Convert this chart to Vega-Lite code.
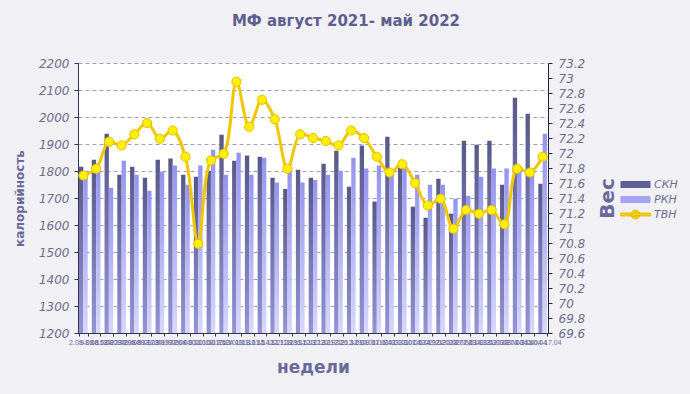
{
  "$schema": "https://vega.github.io/schema/vega-lite/v6.json",
  "width": 470,
  "height": 270,
  "autosize": {"type": "none"},
  "padding": {"left": 78, "top": 63, "right": 142, "bottom": 61},
  "background": "#F1F0F5",
  "config": {"view": {"fill": "white", "stroke": null}, "font": "DejaVu Sans"},
  "title": {"text": "МФ август 2021- май 2022", "fontSize": 15, "fontWeight": "bold", "color": "#5F5F8F", "offset": 28, "anchor": "middle", "dx": 33},
  "data": {"values": [
    {"week": "2.08-8.08", "СКН": 1816, "РКН": 1790, "ТВН": 71.70},
    {"week": "9.08-15.08", "СКН": 1842, "РКН": 1798, "ТВН": 71.79},
    {"week": "16.08-22.08", "СКН": 1938, "РКН": 1738, "ТВН": 72.15},
    {"week": "23.08-29.08", "СКН": 1786, "РКН": 1838, "ТВН": 72.10},
    {"week": "30.08-5.09", "СКН": 1816, "РКН": 1786, "ТВН": 72.25},
    {"week": "6.09-12.09", "СКН": 1775, "РКН": 1727, "ТВН": 72.40},
    {"week": "13.09-19.09", "СКН": 1842, "РКН": 1798, "ТВН": 72.19},
    {"week": "20.09-26.09", "СКН": 1846, "РКН": 1820, "ТВН": 72.30},
    {"week": "27.09-3.10", "СКН": 1786, "РКН": 1749, "ТВН": 71.95},
    {"week": "4.10-10.10", "СКН": 1779, "РКН": 1820, "ТВН": 70.79},
    {"week": "11.10-17.10", "СКН": 1801, "РКН": 1879, "ТВН": 71.90},
    {"week": "18.10-24.10", "СКН": 1934, "РКН": 1786, "ТВН": 71.99},
    {"week": "25.10-31.10", "СКН": 1838, "РКН": 1868, "ТВН": 72.95},
    {"week": "1.11-7.11", "СКН": 1857, "РКН": 1786, "ТВН": 72.35},
    {"week": "8.11-14.11", "СКН": 1853, "РКН": 1849, "ТВН": 72.71},
    {"week": "15.11-21.11", "СКН": 1775, "РКН": 1757, "ТВН": 72.45},
    {"week": "22.11-28.11", "СКН": 1733, "РКН": 1800, "ТВН": 71.79},
    {"week": "29.11-5.12", "СКН": 1805, "РКН": 1757, "ТВН": 72.25},
    {"week": "6.12-12.12", "СКН": 1775, "РКН": 1767, "ТВН": 72.20},
    {"week": "13.12-19.12", "СКН": 1827, "РКН": 1786, "ТВН": 72.16},
    {"week": "20.12-26.12", "СКН": 1875, "РКН": 1801, "ТВН": 72.10},
    {"week": "27.12-2.01", "СКН": 1742, "РКН": 1849, "ТВН": 72.30},
    {"week": "3.01-9.01", "СКН": 1894, "РКН": 1809, "ТВН": 72.20},
    {"week": "10.01-16.01", "СКН": 1687, "РКН": 1820, "ТВН": 71.95},
    {"week": "17.01-23.01", "СКН": 1927, "РКН": 1786, "ТВН": 71.74},
    {"week": "24.01-30.01", "СКН": 1812, "РКН": 1809, "ТВН": 71.85},
    {"week": "31.01-6.02", "СКН": 1668, "РКН": 1786, "ТВН": 71.60},
    {"week": "7.02-13.02", "СКН": 1627, "РКН": 1749, "ТВН": 71.30},
    {"week": "14.02-20.02", "СКН": 1771, "РКН": 1749, "ТВН": 71.39},
    {"week": "21.02-27.02", "СКН": 1642, "РКН": 1697, "ТВН": 70.99},
    {"week": "28.02-6.03", "СКН": 1912, "РКН": 1708, "ТВН": 71.24},
    {"week": "7.03-13.03", "СКН": 1897, "РКН": 1779, "ТВН": 71.19},
    {"week": "14.03-20.03", "СКН": 1912, "РКН": 1809, "ТВН": 71.24},
    {"week": "21.03-27.03", "СКН": 1749, "РКН": 1809, "ТВН": 71.05},
    {"week": "28.03-3.04", "СКН": 2071, "РКН": 1805, "ТВН": 71.79},
    {"week": "4.04-10.04", "СКН": 2012, "РКН": 1786, "ТВН": 71.74},
    {"week": "11.04-17.04", "СКН": 1753, "РКН": 1938, "ТВН": 71.95}
  ]},
  "layer": [
    {
      "transform": [{"fold": ["СКН", "РКН"], "as": ["series", "kcal"]}],
      "encoding": {
        "x": {"field": "week", "type": "nominal", "sort": null,
          "scale": {"paddingInner": 0.32, "paddingOuter": 0.08},
          "axis": {"title": "недели", "titleFontSize": 17, "titleFontWeight": "bold", "titleColor": "#6A6A9A", "titlePadding": 14,
            "labelAngle": 0, "labelFontSize": 7, "labelFont": "Liberation Sans", "labelColor": "#6E6EA0", "labelOverlap": false, "labelBound": false, "labelFlush": false, "labelPadding": 2,
            "tickBand": "extent", "tickSize": 3, "tickColor": "#333355", "domainColor": "#333355", "grid": false}},
        "y": {"field": "kcal", "type": "quantitative", "scale": {"domain": [1200, 2200], "nice": false, "zero": false},
          "axis": {"title": "калорийность", "values": [1200, 1300, 1400, 1500, 1600, 1700, 1800, 1900, 2000, 2100, 2200], "format": "d",
            "grid": true, "gridDash": [4, 3], "gridColor": "#9C9CCC", "domainColor": "#333355", "tickColor": "#333355", "tickSize": 4,
            "labelFontSize": 12, "labelFontStyle": "italic", "labelColor": "#6E6E8E", "labelPadding": 5,
            "titleFontSize": 12, "titleFontWeight": "bold", "titleColor": "#6A6A9A", "titlePadding": 12}}
      },
      "layer": [
        {
          "transform": [{"filter": "datum.series === 'СКН'"}],
          "mark": {"type": "bar", "color": {"gradient": "linear", "x1": 0, "y1": 0, "x2": 0, "y2": 1, "stops": [{"offset": 0, "color": "#585889"}, {"offset": 1, "color": "#9494D6"}]}},
          "encoding": {
            "xOffset": {"field": "series", "type": "nominal", "scale": {"domain": ["СКН", "РКН"], "paddingInner": 0}},
            "y2": {"datum": 1200}
          }
        },
        {
          "transform": [{"filter": "datum.series === 'РКН'"}],
          "mark": {"type": "bar", "color": {"gradient": "linear", "x1": 0, "y1": 0, "x2": 0, "y2": 1, "stops": [{"offset": 0, "color": "#9494EE"}, {"offset": 1, "color": "#D8D8FF"}]}},
          "encoding": {
            "xOffset": {"field": "series", "type": "nominal", "scale": {"domain": ["СКН", "РКН"], "paddingInner": 0}},
            "y2": {"datum": 1200}
          }
        },
        {
          "mark": {"type": "point", "filled": true, "opacity": 0},
          "encoding": {
            "color": {"field": "series", "type": "nominal",
              "scale": {"domain": ["СКН", "РКН", "ТВН"], "range": ["#5E5E92", "#A4A4F2", "#F5CF00"]},
              "legend": {"orient": "none", "legendX": 552, "legendY": 116, "title": null, "symbolSize": 100, "symbolOpacity": 1,
                "labelFontSize": 11, "labelFontStyle": "italic", "labelColor": "#6E6E8E", "labelOffset": 13, "rowPadding": 3, "padding": 0,
                "encode": {"symbols": {"update": {
                  "shape": {"signal": "datum.value === 'ТВН' ? 'M-3,-0.3H3V0.3H-3Z M-0.9,0A0.9,0.9 0 1,1 0.9,0A0.9,0.9 0 1,1 -0.9,0Z' : 'M-3,-0.7H3V0.7H-3Z'"},
                  "opacity": {"value": 1},
                  "stroke": {"signal": "datum.value === 'ТВН' ? '#E0B800' : 'transparent'"},
                  "strokeWidth": {"value": 0.8}
                }}}}}
          }
        }
      ]
    },
    {
      "mark": {"type": "line", "interpolate": "catmull-rom", "color": "#F2C600", "strokeWidth": 3,
        "point": {"filled": true, "fill": "#FFF000", "stroke": "#E6BE00", "strokeWidth": 1, "size": 85, "opacity": 1}},
      "encoding": {
        "x": {"field": "week", "type": "nominal", "sort": null},
        "y": {"field": "ТВН", "type": "quantitative", "scale": {"domain": [69.6, 73.2], "nice": false, "zero": false},
          "axis": {"orient": "right", "title": "Вес", "titleAngle": 270, "titleFontSize": 20, "titleFontWeight": "bold", "titleColor": "#6A6A9A", "titlePadding": 33,
            "values": [69.6, 69.8, 70, 70.2, 70.4, 70.6, 70.8, 71, 71.2, 71.4, 71.6, 71.8, 72, 72.2, 72.4, 72.6, 72.8, 73, 73.2],
            "format": ".1~f", "grid": false, "domainColor": "#222233", "tickColor": "#222233", "tickSize": 4,
            "labelFontSize": 12, "labelFontStyle": "italic", "labelColor": "#6E6E8E", "labelPadding": 6}}
      }
    }
  ],
  "resolve": {"scale": {"y": "independent"}, "axis": {"y": "independent"}}
}
